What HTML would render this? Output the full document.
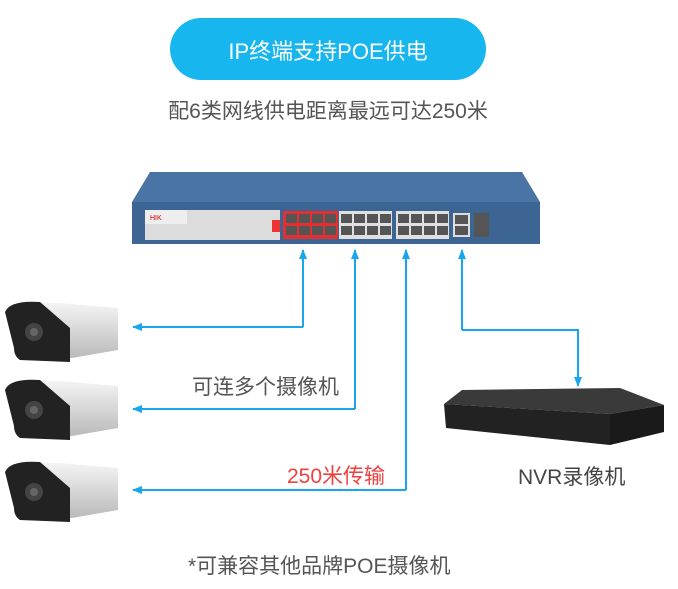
<!DOCTYPE html><html><head><meta charset="utf-8"><style>
body{margin:0;width:678px;height:589px;background:#fff;overflow:hidden;font-family:"Liberation Sans","Noto Sans CJK SC",sans-serif;position:relative}
.t{position:absolute;white-space:nowrap}
</style></head><body>
<div style="position:absolute;left:170px;top:18px;width:316px;height:62px;border-radius:31px;background:#17b6ee"></div>
<div class="t" style="left:170px;width:316px;top:34px;text-align:center;color:#fff;font-size:22px">IP终端支持POE供电</div>
<div class="t" style="left:140px;width:376px;top:95px;text-align:center;color:#555;font-size:21px">配6类网线供电距离最远可达250米</div>
<div class="t" style="left:192px;top:371px;color:#555;font-size:21px">可连多个摄像机</div>
<div class="t" style="left:287px;top:460px;color:#f04040;font-size:21px">250米传输</div>
<div class="t" style="left:518px;top:461px;color:#444;font-size:21px">NVR录像机</div>
<div class="t" style="left:188px;top:550px;color:#555;font-size:21px">*可兼容其他品牌POE摄像机</div>
<svg width="678" height="589" style="position:absolute;left:0;top:0">
<defs><linearGradient id="cam" x1="0" y1="0" x2="0" y2="1"><stop offset="0" stop-color="#f4f4f4"/><stop offset="1" stop-color="#b8b8b8"/></linearGradient>
<marker id="a" markerUnits="userSpaceOnUse" markerWidth="10" markerHeight="8" refX="9" refY="4" orient="auto"><path d="M0,0L10,4L0,8z" fill="#1aa6ec"/></marker></defs>
<polygon points="150,172 522,172 540,202 132,202" fill="#4a74a4"/>
<rect x="132" y="202" width="408" height="42" fill="#3d6593"/>
<rect x="145" y="210" width="135" height="30" fill="#dcdcdc"/>
<rect x="145" y="210" width="42" height="14" fill="#eee"/>
<text x="150" y="220" font-size="7" fill="#c00" font-family="Liberation Sans">HIK</text>
<rect x="272" y="220" width="8" height="12" fill="#e33"/>
<rect x="283" y="211" width="55" height="28" fill="#e03030"/>
<rect x="339" y="211" width="53" height="28" fill="#e0e0e0"/>
<rect x="396" y="211" width="53" height="28" fill="#e0e0e0"/>
<rect x="453" y="213" width="17" height="24" fill="#ddd"/>
<rect x="474" y="213" width="15" height="24" fill="#555"/>
<g fill="#555">
<rect x="286" y="214" width="11" height="9"/><rect x="299" y="214" width="11" height="9"/><rect x="312" y="214" width="11" height="9"/><rect x="325" y="214" width="11" height="9"/>
<rect x="286" y="226" width="11" height="9"/><rect x="299" y="226" width="11" height="9"/><rect x="312" y="226" width="11" height="9"/><rect x="325" y="226" width="11" height="9"/>
<rect x="341" y="214" width="11" height="9"/><rect x="354" y="214" width="11" height="9"/><rect x="367" y="214" width="11" height="9"/><rect x="380" y="214" width="11" height="9"/>
<rect x="341" y="226" width="11" height="9"/><rect x="354" y="226" width="11" height="9"/><rect x="367" y="226" width="11" height="9"/><rect x="380" y="226" width="11" height="9"/>
<rect x="398" y="214" width="11" height="9"/><rect x="411" y="214" width="11" height="9"/><rect x="424" y="214" width="11" height="9"/><rect x="437" y="214" width="11" height="9"/>
<rect x="398" y="226" width="11" height="9"/><rect x="411" y="226" width="11" height="9"/><rect x="424" y="226" width="11" height="9"/><rect x="437" y="226" width="11" height="9"/>
<rect x="455" y="215" width="13" height="9"/><rect x="455" y="226" width="13" height="9"/></g>
<g stroke="#1aa6ec" stroke-width="2" fill="none">
<path d="M303,327V250" marker-end="url(#a)"/><path d="M303,327H133" marker-end="url(#a)"/>
<path d="M355,409V250" marker-end="url(#a)"/><path d="M355,409H133" marker-end="url(#a)"/>
<path d="M406,490V250" marker-end="url(#a)"/><path d="M406,490H133" marker-end="url(#a)"/>
<path d="M462,330V250" marker-end="url(#a)"/><path d="M462,330H578V386" marker-end="url(#a)"/>
</g>
<g id="c">
<path d="M10,308 Q20,302 60,303 L118,308 L118,350 L60,360 L20,355Z" fill="url(#cam)"/>
<path d="M5,312 Q10,300 40,302 L70,328 L70,362 L20,360 Q14,356 14,348Z" fill="#222"/>
<circle cx="34" cy="332" r="9" fill="#444"/><circle cx="34" cy="332" r="4" fill="#666"/>
</g>
<use href="#c" y="78"/><use href="#c" y="160"/>
<polygon points="462,390 620,388 664,405 610,414 444,404" fill="#3a3a3a"/>
<polygon points="444,404 610,414 610,445 446,428" fill="#222"/>
<polygon points="610,414 664,405 664,432 610,445" fill="#1a1a1a"/>
</svg>
</body></html>
